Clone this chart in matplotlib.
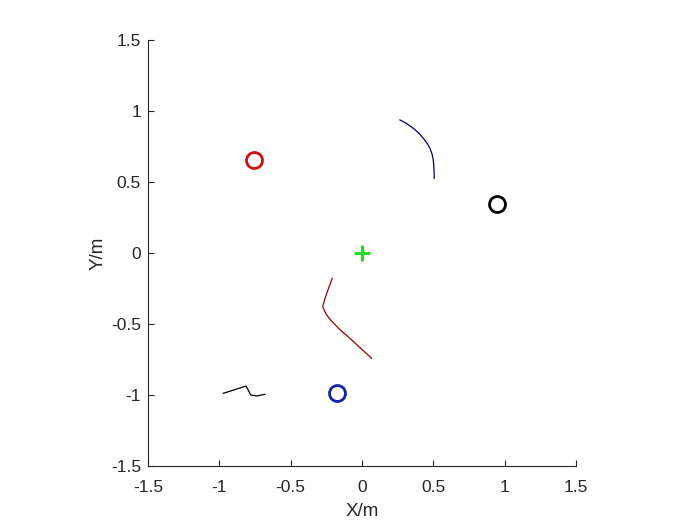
import matplotlib
matplotlib.use("Agg")
import matplotlib.pyplot as plt

plt.rcParams['font.family'] = ['Liberation Sans', 'DejaVu Sans']

# Trajectory data
blue_x = [0.266, 0.313, 0.360, 0.398, 0.430, 0.456, 0.477, 0.491, 0.500, 0.505, 0.507]
blue_y = [0.937, 0.912, 0.878, 0.845, 0.808, 0.773, 0.737, 0.697, 0.655, 0.590, 0.526]

red_x = [-0.208, -0.228, -0.247, -0.262, -0.275, -0.255, -0.224, -0.160, -0.084, -0.010, 0.068]
red_y = [-0.178, -0.231, -0.284, -0.330, -0.378, -0.425, -0.467, -0.535, -0.601, -0.670, -0.742]

black_x = [-0.972, -0.890, -0.813, -0.795, -0.780, -0.738, -0.680]
black_y = [-0.988, -0.962, -0.937, -0.970, -1.000, -1.007, -0.995]

# Marker positions
red_pt = (-0.757, 0.655)
black_pt = (0.946, 0.345)
blue_pt = (-0.175, -0.986)
green_pt = (0.0, 0.0)

ticks = [-1.5, -1, -0.5, 0, 0.5, 1, 1.5]
tick_labels = ['-1.5', '-1', '-0.5', '0', '0.5', '1', '1.5']

fig = plt.figure(figsize=(7, 5.25), dpi=100)
ax = fig.add_axes([0.2114, 0.1124, 0.6114, 0.8114])

ax.plot(blue_x, blue_y, color='#000066', lw=0.9)
ax.plot(red_x, red_y, color='#990000', lw=0.9)
ax.plot(black_x, black_y, color='black', lw=0.9)

ax.plot(*red_pt, 'o', ms=11.5, mfc='none', mec='#CC1111', mew=2)
ax.plot(*black_pt, 'o', ms=11.5, mfc='none', mec='black', mew=2)
ax.plot(*blue_pt, 'o', ms=11.5, mfc='none', mec='#1122AA', mew=2)
ax.plot(*green_pt, '+', ms=12, mec='#22DD22', mew=2.2)

ax.set_xlim(-1.5, 1.5)
ax.set_ylim(-1.5, 1.5)
ax.set_xticks(ticks)
ax.set_xticklabels(tick_labels)
ax.set_yticks(ticks)
ax.set_yticklabels(tick_labels)
ax.spines['top'].set_visible(False)
ax.spines['right'].set_visible(False)
for s in ['left', 'bottom']:
    ax.spines[s].set_color('#262626')
    ax.spines[s].set_linewidth(0.8)
ax.tick_params(direction='in', length=4, width=0.8, colors='#262626', labelsize=12.5)
ax.tick_params(axis='x', pad=10)
ax.tick_params(axis='y', pad=5)
ax.set_xlabel('X/m', fontsize=13.5, color='#262626', labelpad=6)
ax.set_ylabel('Y/m', fontsize=13.5, color='#262626', labelpad=3)

fig.savefig('out.png', dpi=100)
